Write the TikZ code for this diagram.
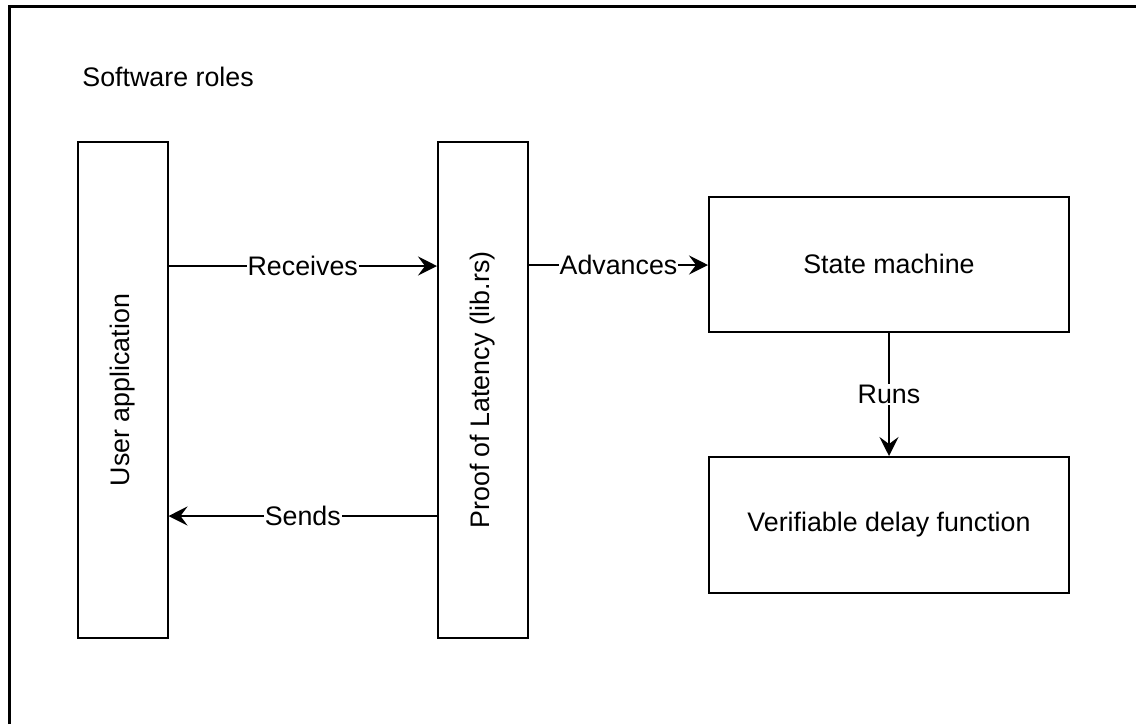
\documentclass[tikz,border=0pt]{standalone}
\usepackage{fontspec}
\setmainfont{Liberation Sans}
\usetikzlibrary{arrows.meta}
\tikzset{
  rolebox/.style={draw, line width=1pt, inner sep=0pt},
  link/.style={line width=1pt, -{Stealth[length=9.5pt, width=9.5pt, inset=3.5pt]}},
  linklabel/.style={fill=white, inner sep=0.5pt}
}
\begin{document}
\begin{tikzpicture}[x=0.5pt, y=-0.5pt, font=\fontsize{13.4}{16}\selectfont]
			%%%%% START %%%%%
			\useasboundingbox (0, 0) rectangle (1136, 724);
			
			\draw[line width=1.5pt] (9.5, 724) -- (9.5, 6) -- (1136, 6);
			\node[anchor=west, inner sep=0pt] (title) at (82, 77) {Software roles};
			
			\node[rolebox, minimum width=45pt, minimum height=248pt] (user) at (122.5, 390) {};
			\node[rotate=90] at (user.center) {User application};
			\node[rolebox, minimum width=45pt, minimum height=248pt] (pol) at (483, 390) {};
			\node[rotate=90] at (pol.center) {Proof of Latency (lib.rs)};
			
			\node[rolebox, minimum width=180pt, minimum height=67.5pt] (sm) at (889, 264) {State machine};
			\node[rolebox, minimum width=180pt, minimum height=68pt] (vdf) at (889, 525) {Verifiable delay function};
			
			\draw[link] (user.east |- 0, 266) -- node[linklabel] {Receives} (pol.west |- 0, 266);
			\draw[link] (pol.west |- 0, 516) -- node[linklabel] {Sends} (user.east |- 0, 516);
			\draw[link] (pol.east |- 0, 265) -- node[linklabel] {Advances} (sm.west |- 0, 265);
			\draw[link] (sm.south) -- node[linklabel] {Runs} (vdf.north);
			
			%%%%% END %%%%%
\end{tikzpicture}
\end{document}
